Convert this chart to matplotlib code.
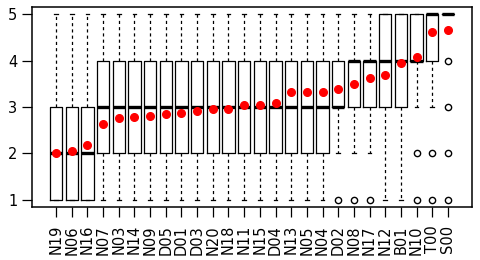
import matplotlib
matplotlib.use("Agg")
from matplotlib import pyplot as plt

# category order as in the reference (sorted by mean)
labels = ["N19", "N06", "N16", "N07", "N03", "N14", "N09", "D05", "D01", "D03",
          "N20", "N18", "N11", "N15", "D04", "N13", "N05", "N04", "D02", "N08",
          "N17", "N12", "B01", "N10", "T00", "S00"]

# five number summaries
whislo = [1, 1, 1] + [1] * 15 + [2, 2, 2, 1, 1, 3, 3, 5]
q1 = [1, 1, 1] + [2] * 15 + [3, 3, 3, 3, 3, 4, 4, 5]
med = [2, 2, 2] + [3] * 15 + [3, 4, 4, 4, 4, 4, 5, 5]
q3 = [3, 3, 3] + [4] * 15 + [4, 4, 4, 5, 5, 5, 5, 5]
whishi = [5, 5, 5] + [5] * 15 + [5, 5, 5, 5, 5, 5, 5, 5]
fliers = [[]] * 18 + [[1], [1], [1], [], [], [2, 1], [2, 1], [4, 3, 2, 1]]

# means (red dots)
means = [2.00, 2.04, 2.17, 2.64, 2.76, 2.78, 2.80, 2.85, 2.88, 2.92,
         2.95, 2.96, 3.04, 3.04, 3.08, 3.32, 3.33, 3.33, 3.38, 3.49,
         3.62, 3.70, 3.96, 4.07, 4.63, 4.67]

plt.rcParams["font.family"] = ["DejaVu Sans"]

stats = []
for i in range(len(labels)):
    stats.append(dict(label=labels[i], whislo=whislo[i], q1=q1[i], med=med[i],
                      q3=q3[i], whishi=whishi[i], fliers=fliers[i], mean=means[i]))

fig = plt.figure(figsize=(4.8, 2.6), dpi=100)
ax = fig.add_axes([0.0667, 0.204, 0.9166, 0.769])

ax.bxp(stats, positions=range(1, len(labels) + 1), widths=0.8, capwidths=0.25,
       showmeans=True,
       boxprops=dict(color="black", linewidth=0.9),
       medianprops=dict(color="black", linewidth=2.4, solid_capstyle="butt"),
       whiskerprops=dict(color="black", linewidth=0.9, linestyle=(0, (2.5, 2.5))),
       capprops=dict(color="black", linewidth=0.9),
       flierprops=dict(marker="o", markerfacecolor="none", markeredgecolor="black",
                       markersize=4.5, markeredgewidth=1.0),
       meanprops=dict(marker="o", markerfacecolor="red", markeredgecolor="red",
                      markersize=5.5))

ax.set_xlim(-0.54, 27.54)
ax.set_ylim(0.84, 5.16)
ax.set_yticks([1, 2, 3, 4, 5])
ax.set_xticks(range(1, len(labels) + 1))
ax.set_xticklabels(labels, rotation=90)
ax.tick_params(axis="both", labelsize=10.5, length=7, width=0.9, color="black")
ax.tick_params(axis="y", pad=3.5)
ax.tick_params(axis="x", pad=6)
for s in ax.spines.values():
    s.set_linewidth(1.1)

fig.savefig("out.png", dpi=100)
